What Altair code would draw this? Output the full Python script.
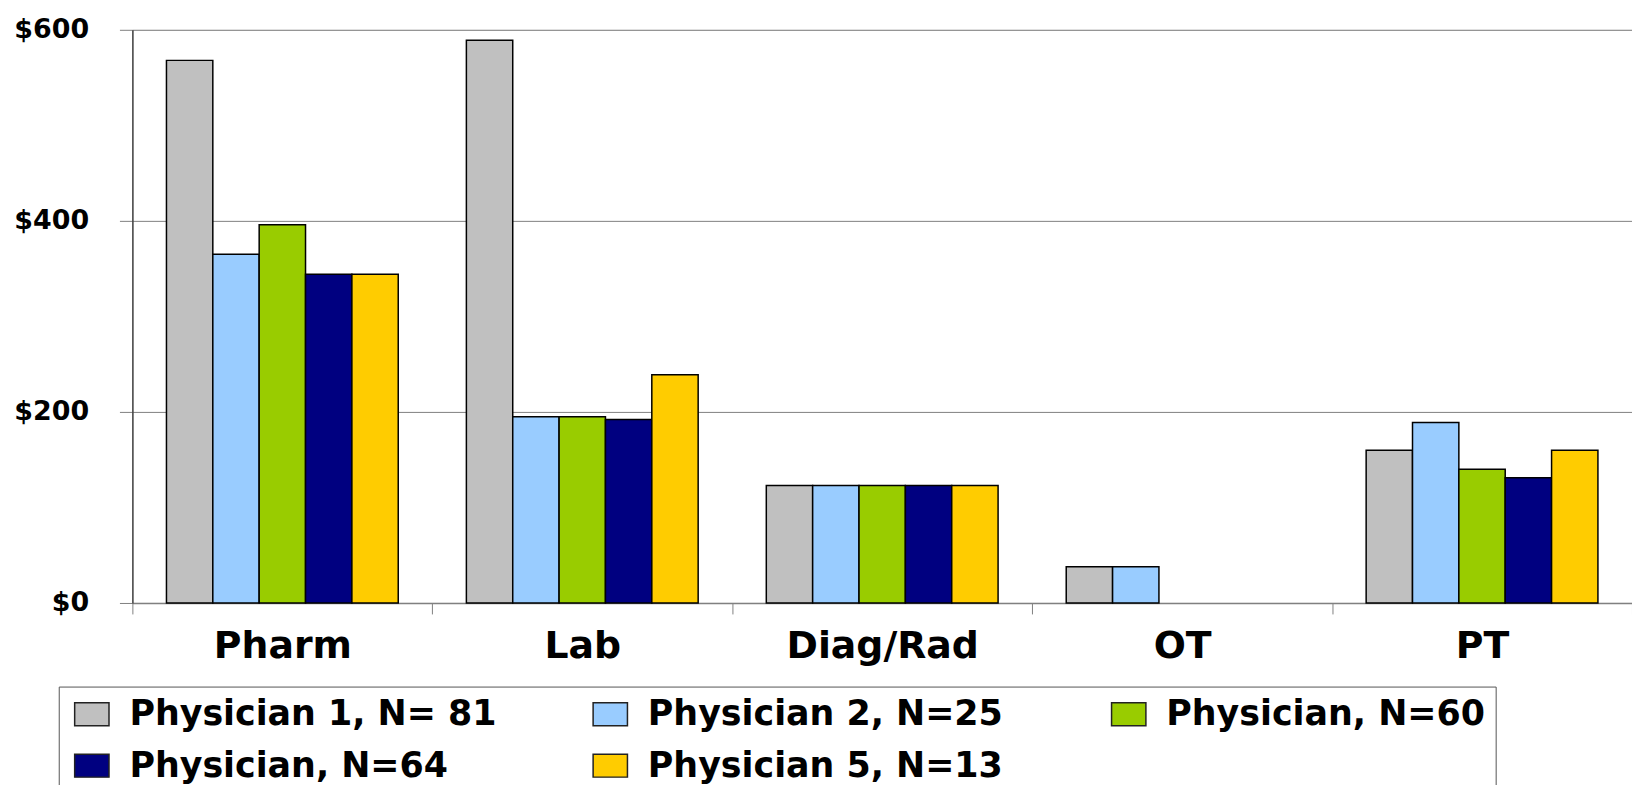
import altair as alt
import pandas as pd

categories = ["Pharm", "Lab", "Diag/Rad", "OT", "PT"]
series = ["Physician 1, N= 81", "Physician 2, N=25", "Physician, N=60",
          "Physician, N=64", "Physician 5, N=13"]
phys1 = [568, 589, 123, 38, 160]
phys2 = [365, 195, 123, 38, 189]
phys60 = [396, 195, 123, None, 140]
phys64 = [344, 192, 123, None, 131]
phys5 = [344, 239, 123, None, 160]
colors = ["#C0C0C0", "#99CCFF", "#99CC00", "#000080", "#FFCC00"]
y_ticks = [0, 200, 400, 600]

rows = []
for s, vals in zip(series, [phys1, phys2, phys60, phys64, phys5]):
    for c, v in zip(categories, vals):
        if v is not None:
            rows.append({"category": c, "series": s, "value": v})
df = pd.DataFrame(rows)

FONT = "DejaVu Sans"

chart = alt.Chart(df).mark_bar(stroke="#000000", strokeWidth=1.5).encode(
    x=alt.X("category:N", sort=categories,
            scale=alt.Scale(paddingInner=0, paddingOuter=0),
            axis=alt.Axis(title=None, labelAngle=0, tickBand="extent", grid=False,
                          ticks=True, tickSize=11, labelPadding=14, labelLimit=500,
                          labelFont=FONT, labelFontSize=38, labelFontWeight="bold",
                          labelColor="#000000", domainColor="#808080",
                          tickColor="#808080", domainWidth=1.5)),
    xOffset=alt.XOffset("series:N", sort=series,
                        scale=alt.Scale(domain=series, paddingInner=0, paddingOuter=0.735)),
    y=alt.Y("value:Q", scale=alt.Scale(domain=[0, 600], nice=False),
            axis=alt.Axis(title=None, values=y_ticks, labelExpr="'$' + datum.value",
                          tickSize=13, labelPadding=31, labelFont=FONT,
                          labelFontSize=27, labelFontWeight="bold", labelColor="#000000",
                          gridColor="#808080", gridWidth=1, tickColor="#808080",
                          domainColor="#404040", domainWidth=1.5)),
    color=alt.Color("series:N", sort=series,
                    scale=alt.Scale(domain=series, range=colors),
                    legend=alt.Legend(title=None, orient="none", legendX=-74, legendY=660,
                                      direction="horizontal", columns=3, gridAlign="all",
                                      columnPadding=90, rowPadding=16, padding=10,
                                      symbolType="M-1,-1L2,-1L2,1L-1,1Z", symbolSize=529,
                                      symbolStrokeColor="#222222", symbolStrokeWidth=1.5,
                                      symbolOpacity=1,
                                      labelFont=FONT, labelFontSize=35, labelFontWeight="bold",
                                      labelColor="#000000", labelOffset=26, labelLimit=800,
                                      strokeColor="#555555", fillColor="#FFFFFF")),
).properties(
    width=1507, height=576,
    autosize=alt.AutoSizeParams(type="none"),
    padding={"left": 125, "top": 20, "right": 0, "bottom": 181},
).configure_view(stroke=None).configure(background="#FFFFFF")

chart.save("out.html", embed_options={"renderer": "svg", "actions": False})
